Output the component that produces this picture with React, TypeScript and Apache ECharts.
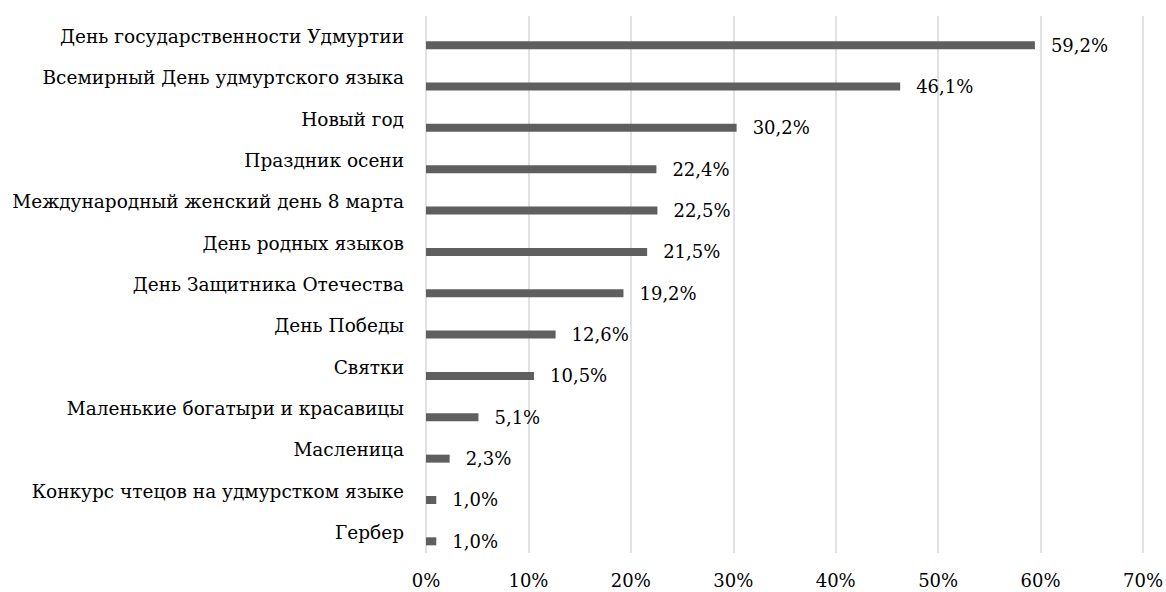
import React, { useEffect, useRef } from "react";
import * as echarts from "echarts";

const categories = [
  "День государственности Удмуртии",
  "Всемирный День удмуртского языка",
  "Новый год",
  "Праздник осени",
  "Международный женский день 8 марта",
  "День родных языков",
  "День Защитника Отечества",
  "День Победы",
  "Святки",
  "Маленькие богатыри и красавицы",
  "Масленица",
  "Конкурс чтецов на удмурстком языке",
  "Гербер",
];
const values = [59.2, 46.1, 30.2, 22.4, 22.5, 21.5, 19.2, 12.6, 10.5, 5.1, 2.3, 1.0, 1.0];
const xTicks = [0, 10, 20, 30, 40, 50, 60, 70];

const FONT = "DejaVu Serif";

export default function App() {
  const ref = useRef<HTMLDivElement>(null);
  useEffect(() => {
    if (!ref.current) return;
    const chart = echarts.init(ref.current, null, { renderer: "svg" });
    const xMin = xTicks[0];
    const xMax = xTicks[xTicks.length - 1];
    const step = xTicks[1] - xTicks[0];
    chart.setOption({
      animation: false,
      textStyle: { fontFamily: FONT },
      grid: [
        { left: 426, right: 20, top: 16, bottom: 39 },
        { left: 426, right: 20, top: 24.5, bottom: 30 },
      ],
      xAxis: [
        {
          gridIndex: 0,
          type: "value",
          min: xMin,
          max: xMax,
          interval: step,
          axisLine: { show: false },
          axisTick: { show: false },
          splitLine: { show: true, lineStyle: { color: "#d9d9d9", width: 1.5 } },
          axisLabel: {
            show: true,
            color: "#000",
            fontSize: 18,
            fontFamily: FONT,
            margin: 18,
            formatter: (v: number) => `${v}%`,
          },
        },
        {
          gridIndex: 1,
          type: "value",
          min: xMin,
          max: xMax,
          show: false,
        },
      ],
      yAxis: [
        {
          gridIndex: 0,
          type: "category",
          data: categories,
          inverse: true,
          axisLine: { show: false },
          axisTick: { show: false },
          axisLabel: { color: "#000", fontSize: 18.5, fontFamily: FONT, margin: 22 },
        },
        {
          gridIndex: 1,
          type: "category",
          data: categories,
          inverse: true,
          show: false,
        },
      ],
      series: [
        {
          type: "bar",
          xAxisIndex: 1,
          yAxisIndex: 1,
          data: values,
          barWidth: 8,
          itemStyle: { color: "#5f5f5f" },
          label: {
            show: true,
            position: "right",
            distance: 16,
            color: "#000",
            fontSize: 18,
            fontFamily: FONT,
            formatter: (p: any) => `${p.value.toFixed(1).replace(".", ",")}%`,
          },
        },
      ],
    });
    return () => chart.dispose();
  }, []);
  return <div ref={ref} style={{ width: 1166, height: 592, position: "absolute", left: 0, top: 0 }} />;
}
